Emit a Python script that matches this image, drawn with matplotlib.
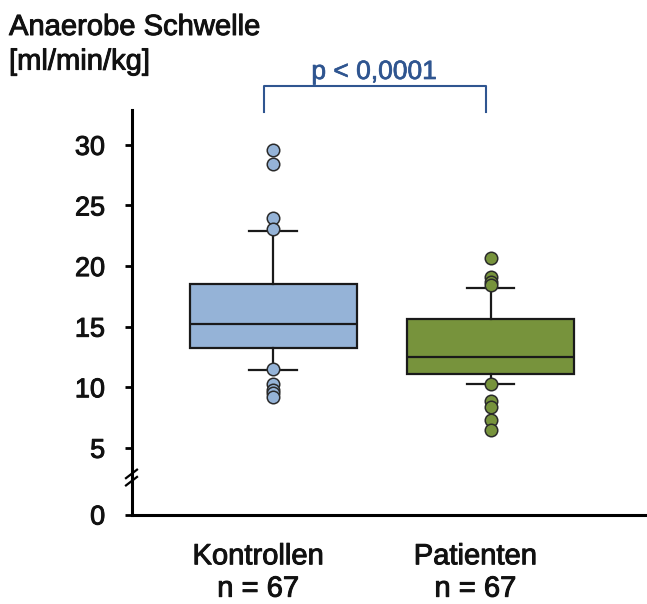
import matplotlib
matplotlib.use("Agg")
import matplotlib.pyplot as plt
import matplotlib.lines as mlines
import matplotlib.patheffects as pe
from matplotlib.transforms import blended_transform_factory

plt.rcParams['font.family'] = ['Liberation Sans', 'DejaVu Sans']

# ---- data ----
groups = ["Kontrollen\nn = 67", "Patienten\nn = 67"]
q1 = [13.2, 11.1]
median = [15.2, 12.5]
q3 = [18.5, 15.6]
whisker_low = [11.4, 10.25]
whisker_high = [22.9, 18.2]
outliers_kontrollen = [29.6, 28.4, 24.0, 23.1, 11.5, 10.3, 9.8, 9.5, 9.2]
outliers_patienten = [20.7, 19.1, 18.7, 18.4, 10.25, 8.9, 8.4, 7.3, 6.5]
ytick_values = [5, 10, 15, 20, 25, 30]
ytick_labels = ["5", "10", "15", "20", "25", "30"]
p_text = "p < 0,0001"
title_text = "Anaerobe Schwelle\n[ml/min/kg]"

colors = ["#95B3D7", "#77933C"]
edge = "#1a1a1a"
txt = "#111111"
thick = [pe.withStroke(linewidth=0.7, foreground=txt)]

W, H = 647, 604
fig = plt.figure(figsize=(W / 100, H / 100), dpi=100)
ax_left, ax_right, ax_bottom, ax_top = 131.5, 647, 514.5, 110
ax = fig.add_axes([ax_left / W, 1 - ax_bottom / H, (ax_right - ax_left) / W, (ax_bottom - ax_top) / H])

stats = []
fl = [outliers_kontrollen, outliers_patienten]
for i in range(2):
    stats.append(dict(q1=q1[i], med=median[i], q3=q3[i], whislo=whisker_low[i],
                      whishi=whisker_high[i], fliers=fl[i]))

positions = [1, 2]
bp = ax.bxp(stats, positions=positions, widths=0.767, patch_artist=True, showfliers=True,
            capwidths=0.22,
            boxprops=dict(linewidth=1.6, edgecolor=edge),
            medianprops=dict(color=edge, linewidth=1.6),
            whiskerprops=dict(color=edge, linewidth=1.6),
            capprops=dict(color=edge, linewidth=1.6),
            flierprops=dict(marker='o', markersize=9, markeredgecolor='#2a2a2a', markeredgewidth=1.1))
for patch, c in zip(bp['boxes'], colors):
    patch.set_facecolor(c)
for fl_line, c in zip(bp['fliers'], colors):
    fl_line.set_markerfacecolor(c)

ax.set_xlim(1 - (273.3 - ax_left) / 217.2, 2 + (ax_right - 490.5) / 217.2)
ax.set_ylim(-0.5, 32.88)

ax.spines['top'].set_visible(False)
ax.spines['right'].set_visible(False)
ax.spines['left'].set_linewidth(2.2)
ax.spines['bottom'].set_linewidth(2.2)

ax.set_yticks([-0.5] + ytick_values)
ax.set_yticklabels(["0"] + ytick_labels, fontsize=19.5)
ax.tick_params(axis='y', length=5, width=2, pad=14, labelcolor=txt)

ax.set_xticks([0.93, 1.93])
ax.set_xticklabels(groups, fontsize=21, linespacing=1.2)
ax.tick_params(axis='x', length=0, pad=20, labelcolor=txt)

for lab in ax.get_yticklabels() + ax.get_xticklabels():
    lab.set_path_effects(thick)

# axis break marks
tr = blended_transform_factory(ax.transAxes, ax.transData)
dx = 5.5 / (ax_right - ax_left)
for yc in [2.85, 2.25]:
    ax.add_line(mlines.Line2D([-dx, dx], [yc - 0.35, yc + 0.35], transform=tr,
                              color='black', lw=1.6, clip_on=False))

# significance bracket (figure pixel coordinates)
bcol = "#2F5590"
def fx(px):
    return px / W
def fy(py):
    return 1 - py / H
fig.add_artist(mlines.Line2D([fx(263.5), fx(263.5), fx(486), fx(486)],
                             [fy(112), fy(86), fy(86), fy(112)], color=bcol, lw=1.5))
fig.text(fx(374), fy(72), p_text, ha='center', va='center', fontsize=19, color=bcol,
         path_effects=[pe.withStroke(linewidth=0.5, foreground=bcol)])

fig.text(fx(9), fy(13), title_text, ha='left', va='top', fontsize=21, color=txt, linespacing=1.3,
         path_effects=thick)

fig.savefig("out.png", dpi=100)
